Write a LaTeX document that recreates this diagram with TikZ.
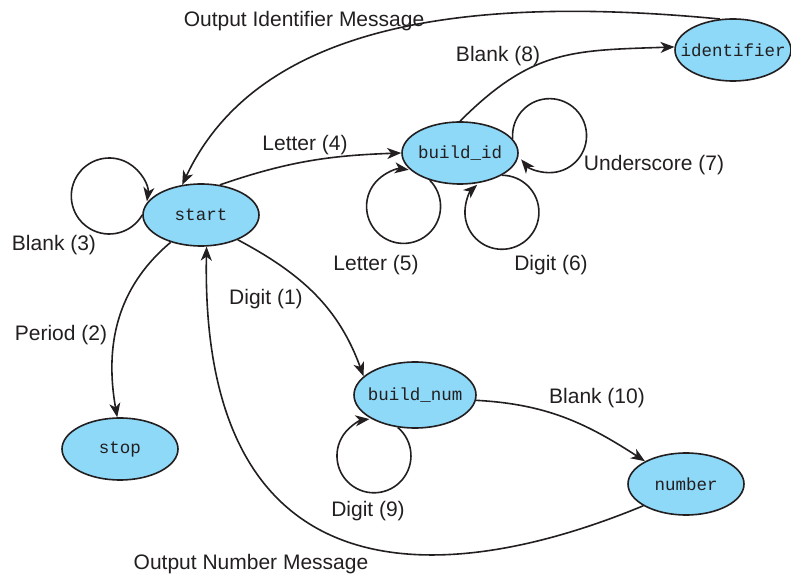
\documentclass[tikz,border=0pt]{standalone}
\usepackage{fontspec}
\setmainfont{Liberation Sans}
\newfontfamily\statefont{Liberation Mono}
\usetikzlibrary{shapes.geometric,arrows.meta}
\definecolor{stfill}{RGB}{142,216,248}
\definecolor{ink}{RGB}{35,31,32}
\tikzset{
  state/.style={ellipse, draw=ink, line width=1.6pt, fill=stfill, inner sep=0pt,
    minimum width=116pt, minimum height=62pt,
    font=\statefont\fontsize{17.5}{20}\selectfont, text=ink},
  arr/.style={draw=ink, line width=1.6pt, -{Stealth[length=14pt,width=11pt,inset=4pt]}},
  lbl/.style={inner sep=0pt, text height=15pt, text depth=0pt, anchor=center,
    font=\fontsize{21}{25}\selectfont, text=ink}
}
\newcommand{\st}[1]{\makebox[0pt][c]{#1}}
\begin{document}
\begin{tikzpicture}[x=1pt,y=1pt]
\useasboundingbox (0,0) rectangle (791,575);
% states
\node[state] (start) at (201,360) {\st{start}};
\node[state] (buildid) at (460,422) {\st{build\_id}};
\node[state] (identifier) at (733,525) {\st{identifier}};
\node[state, minimum width=122pt, minimum height=66pt] (buildnum) at (415,180) {\st{build\_num}};
\node[state] (stop) at (120,126) {\st{stop}};
\node[state] (number) at (686,91) {\st{number}};
% transitions
\draw[arr] (start.west) arc[start angle=-30, end angle=-368, radius=38pt];
\draw[arr] (start.58) to[out=19,in=182] (buildid.180);
\draw[arr] (start.222) to[out=220,in=100] (stop.95);
\draw[arr] (start.326) to[out=-28,in=110] (buildnum.160);
\draw[arr] (buildid.15) arc[start angle=185, end angle=-140, radius=37pt];
\draw[arr] (buildid.222) arc[start angle=45, end angle=-278, radius=37pt];
\draw[arr] (buildid.332) arc[start angle=90, end angle=-228, radius=37pt];
\draw[arr] (buildid.north) to[out=45,in=182,looseness=1.15] (identifier.177);
\draw[arr] (identifier.113) .. controls (470,580) and (259,553) .. (start.122);
\draw[arr] (buildnum.242) arc[start angle=50, end angle=-263, radius=37pt];
\draw[arr] (buildnum.-5) to[out=-3,in=147] (number.151);
\draw[arr] (number.207) .. controls (440,-15) and (200,-25) .. (start.280);
% labels
\node[lbl] (l1) at (304,556) {Output Identifier Message};
\node[lbl] (l2) at (498,521) {Blank (8)};
\node[lbl] (l3) at (305,432) {Letter (4)};
\node[lbl] (l4) at (654,412) {Underscore (7)};
\node[lbl] (l5) at (376,312) {Letter (5)};
\node[lbl] (l6) at (551,312) {Digit (6)};
\node[lbl] (l7) at (54,332) {Blank (3)};
\node[lbl] (l8) at (61,242) {Period (2)};
\node[lbl] (l9) at (266,278) {Digit (1)};
\node[lbl] (l10) at (368,66) {Digit (9)};
\node[lbl] (l11) at (597,179) {Blank (10)};
\node[lbl] (l12) at (251,13) {Output Number Message};
\end{tikzpicture}
\end{document}
